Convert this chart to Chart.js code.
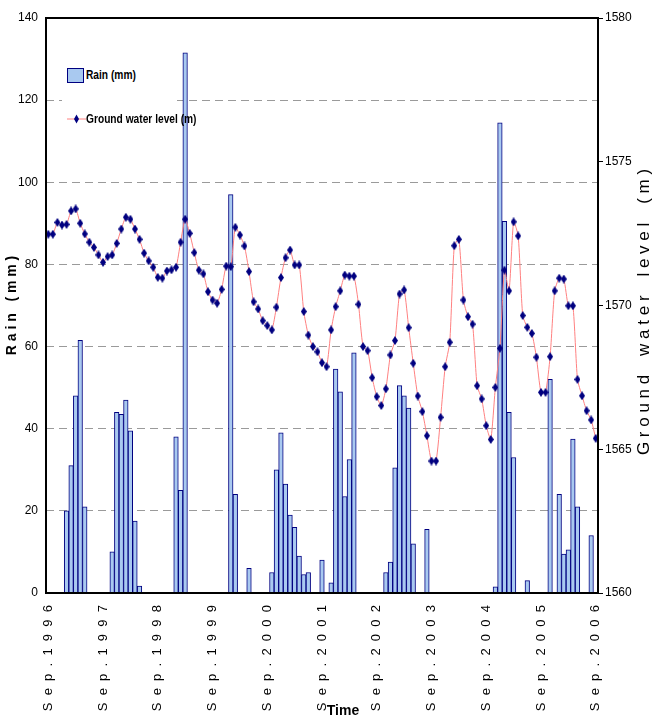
<!DOCTYPE html>
<html>
<head>
<meta charset="utf-8">
<script src="https://cdn.jsdelivr.net/npm/chart.js@4"></script>
<style>
  body { margin: 0; background: #fff; }
  #wrap { position: relative; width: 654px; height: 720px; }
  .lg { position: absolute; font: bold 12px 'Liberation Sans Narrow', 'Arial Narrow', 'Liberation Sans', sans-serif;
        transform: scaleX(0.85); transform-origin: left center; white-space: nowrap; color: #000; }
</style>
</head>
<body>
<div id="wrap">
  <canvas id="c" width="654" height="720"></canvas>
  <!-- legend sits inside the plot, on a white box -->
  <div style="position:absolute;left:62px;top:58px;width:115px;height:76px;background:#fff;"></div>
  <div style="position:absolute;left:67px;top:68px;width:17px;height:15px;box-sizing:border-box;background:#A9C9F0;border:1.5px solid #000080;"></div>
  <div class="lg" style="left:86px;top:68px;">Rain (mm)</div>
  <svg style="position:absolute;left:67px;top:113px;" width="19" height="12">
    <line x1="0" y1="6" x2="19" y2="6" stroke="#FF8080" stroke-width="1"/>
    <polygon points="9.5,1.5 12,6 9.5,10.5 7,6" fill="#000080"/>
  </svg>
  <div class="lg" style="left:86px;top:112px;">Ground water level (m)</div>
</div>
<script>
// months Sep 1996 .. Sep 2006
const monthNames = ['Sep','Oct','Nov','Dec','Jan','Feb','Mar','Apr','May','Jun','Jul','Aug'];
const startYear = 1996;
const nMonths = 121;
const yearTicks = ['1996','1997','1998','1999','2000','2001','2002','2003','2004','2005','2006'];

// rain (mm), one row per hydrological year Sep..Aug
const rain = [
  0, 0, 0, 0, 20, 31, 48, 61.5, 21, 0, 0, 0,
  0, 0, 10, 44, 43.5, 47, 39.5, 17.5, 1.7, 0, 0, 0,
  0, 0, 0, 0, 38, 25, 131.5, 0, 0, 0, 0, 0,
  0, 0, 0, 0, 97, 24, 0, 0, 6, 0, 0, 0,
  0, 5, 30, 39, 26.5, 19, 16, 9, 4.5, 5, 0, 0,
  8, 0, 2.5, 54.5, 49, 23.5, 32.5, 58.5, 0, 0, 0, 0,
  0, 0, 5, 7.5, 30.5, 50.5, 48, 45, 12, 0, 0, 15.5,
  0, 0, 0, 0, 0, 0, 0, 0, 0, 0, 0, 0,
  0, 0, 1.5, 114.5, 90.5, 44, 33, 0, 0, 3, 0, 0,
  0, 0, 52, 0, 24, 9.5, 10.5, 37.5, 21, 0, 0, 14,
  0
];

// ground water level (m)
const gwl = [
  1572.48, 1572.48, 1572.89, 1572.80, 1572.82, 1573.29, 1573.36, 1572.86, 1572.49, 1572.20, 1572.02, 1571.76,
  1571.50, 1571.70, 1571.76, 1572.16, 1572.66, 1573.07, 1573.00, 1572.66, 1572.30, 1571.82, 1571.55, 1571.33,
  1570.98, 1570.95, 1571.20, 1571.24, 1571.33, 1572.20, 1573.00, 1572.51, 1571.84, 1571.23, 1571.10, 1570.48,
  1570.19, 1570.08, 1570.56, 1571.37, 1571.35, 1572.72, 1572.45, 1572.07, 1571.18, 1570.13, 1569.88, 1569.47,
  1569.30, 1569.15, 1569.94, 1570.97, 1571.66, 1571.93, 1571.41, 1571.41, 1569.79, 1568.97, 1568.57, 1568.39,
  1568.01, 1567.87, 1569.15, 1569.96, 1570.51, 1571.06, 1571.02, 1571.02, 1570.04, 1568.57, 1568.43, 1567.49,
  1566.83, 1566.52, 1567.10, 1568.28, 1568.78, 1570.40, 1570.54, 1569.23, 1567.99, 1566.85, 1566.31, 1565.47,
  1564.59, 1564.59, 1566.11, 1567.87, 1568.72, 1572.08, 1572.30, 1570.19, 1569.61, 1569.35, 1567.21, 1566.75,
  1565.82, 1565.34, 1567.15, 1568.51, 1571.23, 1570.51, 1572.91, 1572.42, 1569.65, 1569.24, 1569.03, 1568.20,
  1566.98, 1566.98, 1568.22, 1570.51, 1570.95, 1570.92, 1569.99, 1569.99, 1567.43, 1566.86, 1566.34, 1566.02,
  1565.38
];

const categories = [];
for (let i = 0; i < nMonths; i++) {
  categories.push(monthNames[i % 12] + '. ' + (startYear + Math.floor((i + 8) / 12)));
}
// "Sep.1996" -> letter-spaced tick text
const spaced = s => s.replace(/ /g, '').split('').join('  ');

const narrow = "'Liberation Sans Narrow', 'Arial Narrow', 'Liberation Sans', sans-serif";

// small tall diamond marker
function diamond() {
  const c = document.createElement('canvas');
  c.width = 6; c.height = 9;
  const g = c.getContext('2d');
  g.fillStyle = '#000080';
  g.beginPath();
  g.moveTo(3, 0); g.lineTo(6, 4.5); g.lineTo(3, 9); g.lineTo(0, 4.5);
  g.closePath(); g.fill();
  return c;
}

const frame = {
  id: 'frame',
  afterDraw(chart) {
    const a = chart.chartArea, ctx = chart.ctx;
    ctx.save();
    ctx.strokeStyle = '#000';
    ctx.lineWidth = 2;
    ctx.strokeRect(a.left, a.top, a.right - a.left, a.bottom - a.top);
    // right axis title reads bottom to top
    ctx.fillStyle = '#000';
    ctx.font = '17px ' + narrow;
    ctx.textAlign = 'center';
    ctx.textBaseline = 'middle';
    ctx.translate(644, 312);
    ctx.rotate(-Math.PI / 2);
    ctx.fillText('G r o u n d    w a t e r    l e v e l    ( m )', 0, 0);
    ctx.restore();
    ctx.save();
    ctx.font = 'bold 14px ' + narrow;
    ctx.fillStyle = '#000';
    ctx.textAlign = 'center';
    ctx.textBaseline = 'middle';
    ctx.fillText('Time', 343, 711);
    ctx.restore();
  }
};

new Chart(document.getElementById('c'), {
  type: 'bar',
  data: {
    labels: categories,
    datasets: [{
      type: 'line',
      label: 'Ground water level (m)',
      data: gwl,
      yAxisID: 'y1',
      borderColor: '#FF8080',
      borderWidth: 1,
      tension: 0.2,
      pointStyle: diamond(),
      pointRadius: 3,
      order: 0
    }, {
      label: 'Rain (mm)',
      data: rain,
      yAxisID: 'y',
      backgroundColor: '#A9C9F0',
      borderColor: '#000080',
      borderWidth: 1,
      barPercentage: 1,
      categoryPercentage: 1,
      order: 1
    }]
  },
  options: {
    responsive: false,
    animation: false,
    layout: { padding: { top: 18 } },
    plugins: { legend: { display: false }, tooltip: { enabled: false } },
    scales: {
      x: {
        grid: { display: false },
        border: { display: false },
        ticks: {
          autoSkip: false, maxRotation: 90, minRotation: 90, padding: 4,
          color: '#000', font: { family: "'Liberation Sans', sans-serif", size: 13 },
          callback: (v, i) => i % 12 === 0 ? spaced('Sep. ' + yearTicks[i / 12]) : ''
        },
        afterFit: s => { s.height = 127; }
      },
      y: {
        position: 'left', min: 0, max: 140,
        ticks: { stepSize: 20, padding: 8, color: '#000', font: { family: "'Liberation Sans', sans-serif", size: 12 } },
        grid: { color: '#9a9a9a', drawTicks: false },
        border: { display: false, dash: [8, 5] },
        title: { display: true, text: 'R a i n   ( m m )', color: '#000', padding: { top: 4 },
                 font: { family: narrow, size: 14, weight: 'bold' } },
        afterFit: s => { s.width = 46; }
      },
      y1: {
        position: 'right', min: 1560, max: 1580,
        ticks: { stepSize: 5, padding: 2, color: '#000', font: { family: narrow, size: 12 },
                 callback: v => String(v) },
        grid: { drawOnChartArea: false, tickColor: '#000', tickLength: 5 },
        border: { display: false },
        afterFit: s => { s.width = 56; }
      }
    }
  },
  plugins: [frame]
});
</script>
</body>
</html>
